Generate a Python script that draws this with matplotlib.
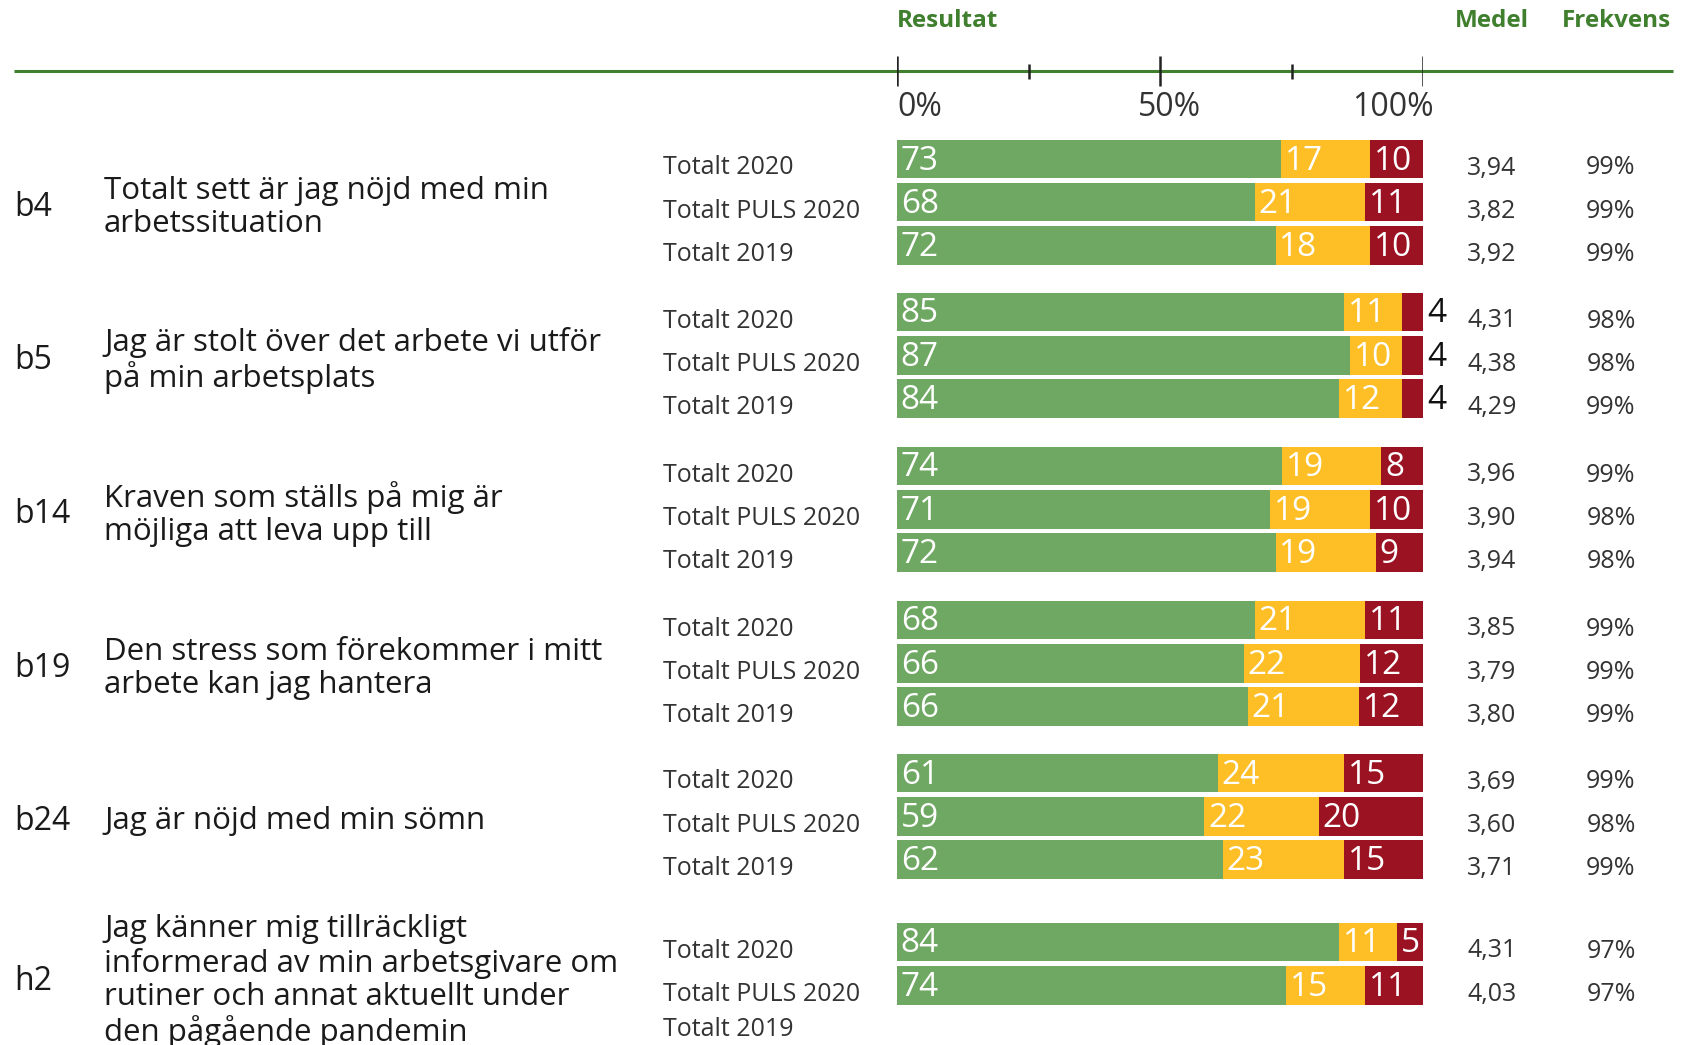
import matplotlib
matplotlib.use("Agg")
import matplotlib.pyplot as plt

# --------------------------------------------------------------------------- #
# Data                                                                        #
# --------------------------------------------------------------------------- #
codes = ["b4", "b5", "b14", "b19", "b24", "h2"]
questions = [
    "Totalt sett är jag nöjd med min\narbetssituation",
    "Jag är stolt över det arbete vi utför\npå min arbetsplats",
    "Kraven som ställs på mig är\nmöjliga att leva upp till",
    "Den stress som förekommer i mitt\narbete kan jag hantera",
    "Jag är nöjd med min sömn",
    "Jag känner mig tillräckligt\ninformerad av min arbetsgivare om\nrutiner och annat aktuellt under\nden pågående pandemin",
]
row_labels = ["Totalt 2020", "Totalt PULS 2020", "Totalt 2019"]

# per group, per row (None = no data)
positive = [[73, 68, 72], [85, 87, 84], [74, 71, 72], [68, 66, 66], [61, 59, 62], [84, 74, None]]
neutral = [[17, 21, 18], [11, 10, 12], [19, 19, 19], [21, 22, 21], [24, 22, 23], [11, 15, None]]
negative = [[10, 11, 10], [4, 4, 4], [8, 10, 9], [11, 12, 12], [15, 20, 15], [5, 11, None]]
medel = [["3,94", "3,82", "3,92"], ["4,31", "4,38", "4,29"], ["3,96", "3,90", "3,94"],
         ["3,85", "3,79", "3,80"], ["3,69", "3,60", "3,71"], ["4,31", "4,03", None]]
frekvens = [["99%", "99%", "99%"], ["98%", "98%", "99%"], ["99%", "98%", "98%"],
            ["99%", "99%", "99%"], ["99%", "98%", "99%"], ["97%", "97%", None]]

# --------------------------------------------------------------------------- #
# Style / layout                                                              #
# --------------------------------------------------------------------------- #
FONT = ["Open Sans", "DejaVu Sans"]
GREEN = "#6fa863"
YELLOW = "#fdbe26"
RED = "#9b1322"
HEAD = "#3f7f2e"
TXT = "#1a1a1a"

W, H = 1682, 1045
BAR_X0, BAR_X1 = 897, 1423
GROUP_Y = [159, 312, 466, 620, 773, 942]   # y of first row in each group (px)
TEXT_SHIFT = [0, 0, 0, 0, 0, -9]           # vertical nudge of question text
ROW_PITCH = 43.2
BAR_H = 38.6

plt.rcParams["font.family"] = FONT

fig = plt.figure(figsize=(W / 100, H / 100), dpi=100)
bg = fig.add_axes([0, 0, 1, 1])
bg.set_xlim(0, W)
bg.set_ylim(H, 0)
bg.axis("off")

ax = fig.add_axes([BAR_X0 / W, 0, (BAR_X1 - BAR_X0) / W, 1])
ax.set_xlim(0, 100)
ax.set_ylim(H, 0)
ax.axis("off")

# header
bg.text(BAR_X0, 21, "Resultat", color=HEAD, fontsize=17.5, fontweight="bold", va="center", ha="left")
bg.text(1492, 21, "Medel", color=HEAD, fontsize=17.5, fontweight="bold", va="center", ha="center")
bg.text(1616, 21, "Frekvens", color=HEAD, fontsize=17.5, fontweight="bold", va="center", ha="center")

# axis line + ticks
bg.plot([14, 1673], [71, 71], color="#3f7f2e", lw=2.2, solid_capstyle="butt")
ax.vlines([0, 50, 100], 56, 86, color="#222222", lw=1.8)
ax.vlines([25, 75], 64, 79, color="#222222", lw=1.8)
ax.text(0, 107, "0%", fontsize=23, color="#333333", ha="left", va="center")
ax.text(51.8, 107, "50%", fontsize=23, color="#333333", ha="center", va="center")
ax.text(102, 107, "100%", fontsize=23, color="#333333", ha="right", va="center")

for g, code in enumerate(codes):
    y0 = GROUP_Y[g]
    ys = [y0 + i * ROW_PITCH for i in range(3)]
    mid = ys[1] + 5 + TEXT_SHIFT[g]
    bg.text(14, mid, code, fontsize=23, color=TXT, ha="left", va="center")
    bg.text(104, mid, questions[g], fontsize=22.5, color=TXT, ha="left", va="center",
            linespacing=1.13)
    for i, y in enumerate(ys):
        bg.text(663, min(y + 9, 1030), row_labels[i], fontsize=18, color="#333333",
                ha="left", va="center")
        if positive[g][i] is None:
            continue
        vals = [positive[g][i], neutral[g][i], negative[g][i]]
        total = sum(vals)
        left = 0
        for v, c in zip(vals, [GREEN, YELLOW, RED]):
            w = v / total * 100
            ax.barh(y, w, left=left, height=BAR_H, color=c, edgecolor="none")
            if w < 4.5:
                ax.text(left + w + 0.8, y + 2, str(v), fontsize=24, color="#111111",
                        ha="left", va="center")
            else:
                ax.text(left + 0.7, y + 2, str(v), fontsize=24, color="white",
                        ha="left", va="center")
            left += w
        bg.text(1492, y + 9, medel[g][i], fontsize=18, color="#333333", ha="center", va="center")
        bg.text(1611, y + 9, frekvens[g][i], fontsize=18, color="#333333", ha="center", va="center")

fig.savefig("out.png", dpi=100)
